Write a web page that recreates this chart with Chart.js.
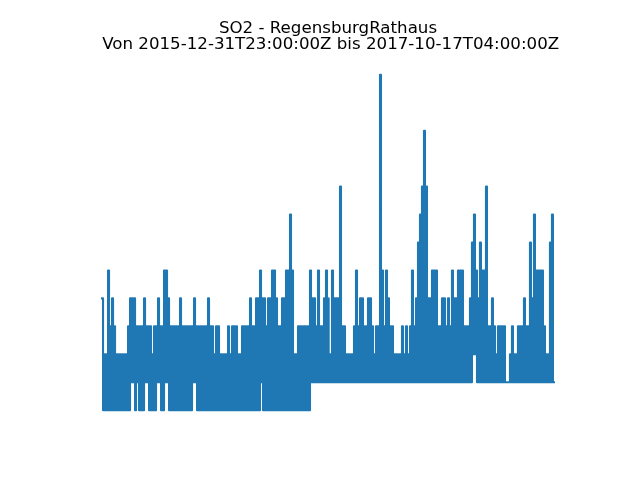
<!DOCTYPE html>
<html>
<head>
<meta charset="utf-8">
<title>SO2 - RegensburgRathaus</title>
<script src="https://cdn.jsdelivr.net/npm/chart.js@4"></script>
<style>
  html, body { margin:0; padding:0; background:#fff; }
  canvas { display:block; }
</style>
</head>
<body>
<canvas id="chart-so2" width="640" height="480"></canvas>
<script>
'use strict';

// ── Data ──────────────────────────────────────────────────────────────────────
var titleLines = ['SO2 - RegensburgRathaus', ' Von 2015-12-31T23:00:00Z bis 2017-10-17T04:00:00Z'];

// highest and lowest reading in each stretch of the record
var highs = [
  5,3,3,6,4,5,4,3,3,3,
  3,3,3,4,5,5,5,4,4,4,
  4,5,4,4,4,3,4,4,5,4,
  4,6,6,5,4,4,4,4,4,5,
  4,4,4,4,4,4,5,4,4,4,
  4,4,4,5,4,4,3,4,4,3,
  3,3,3,4,3,4,4,4,3,3,
  4,4,4,4,5,4,4,5,5,6,
  5,5,4,5,5,6,6,5,4,4,
  5,5,6,6,8,6,3,3,4,4,
  4,4,4,4,6,5,5,4,6,4,
  4,5,6,5,3,6,5,5,5,9,
  4,4,3,3,3,3,4,6,4,5,
  5,4,4,5,5,4,3,4,4,13,
  6,4,6,5,4,4,3,3,3,3,
  4,3,4,3,4,6,4,5,7,8,
  9,11,9,5,5,6,6,6,4,4,
  5,5,4,5,4,6,5,5,6,6,
  6,4,4,4,5,7,8,6,5,7,
  6,6,9,4,4,5,4,3,4,4,
  4,4,2,2,3,4,3,3,4,4,
  4,5,4,4,7,5,8,6,6,6,
  6,4,3,3,7,8
];
var lows = [
  1,1,1,1,1,1,1,1,1,1,
  1,1,1,1,2,2,1,2,1,1,
  1,2,2,1,1,1,1,2,2,1,
  1,2,2,1,1,1,1,1,1,1,
  1,1,1,1,1,2,2,1,1,1,
  1,1,1,1,1,1,1,1,1,1,
  1,1,1,1,1,1,1,1,1,1,
  1,1,1,1,1,1,1,1,1,2,
  1,1,1,1,1,1,1,1,1,1,
  1,1,1,1,1,1,1,1,1,1,
  1,1,1,1,2,2,2,2,2,2,
  2,2,2,2,2,2,2,2,2,2,
  2,2,2,2,2,2,2,2,2,2,
  2,2,2,2,2,2,2,2,2,2,
  2,2,2,2,2,2,2,2,2,2,
  2,2,2,2,2,2,2,2,2,2,
  2,2,2,2,2,2,2,2,2,2,
  2,2,2,2,2,2,2,2,2,2,
  2,2,2,2,2,3,3,2,2,2,
  2,2,2,2,2,2,2,2,2,2,
  2,2,2,2,2,2,2,2,2,2,
  2,2,2,2,2,2,2,2,2,2,
  2,2,2,2,2,2
];

// ── Series: the hourly signal swings between the two envelopes ────────────────
var points = [];
highs.forEach(function(h, k) {
  var t = 2 * k;
  points.push({ x: t - 1, y: h }, { x: t, y: h }, { x: t, y: lows[k] }, { x: t + 1, y: lows[k] });
});

// ── Chart ─────────────────────────────────────────────────────────────────────
new Chart(document.getElementById('chart-so2'), {
  type: 'line',
  data: {
    datasets: [{
      data: points,
      borderColor: '#1f77b4',
      borderWidth: 2.08,
      borderJoinStyle: 'round',
      borderCapStyle: 'square',
      pointRadius: 0,
      tension: 0,
      fill: false
    }]
  },
  options: {
    responsive: false,
    animation: false,
    layout: { padding: { left:80, right:64, top:0, bottom:53 } },
    plugins: {
      legend: { display:false },
      tooltip: { enabled:false },
      title: {
        display: true,
        fullSize: false,
        text: titleLines,
        color: '#000',
        font: { family:'"DejaVu Sans"', size:16.67, weight:'normal', lineHeight:1 },
        padding: { top:20, bottom:4.66 }
      }
    },
    scales: {
      x: { type:'linear', display:false, min:-23.05, max:473.05 },
      y: { type:'linear', display:false, min:0.4, max:13.6 }
    }
  }
});
</script>
</body>
</html>
